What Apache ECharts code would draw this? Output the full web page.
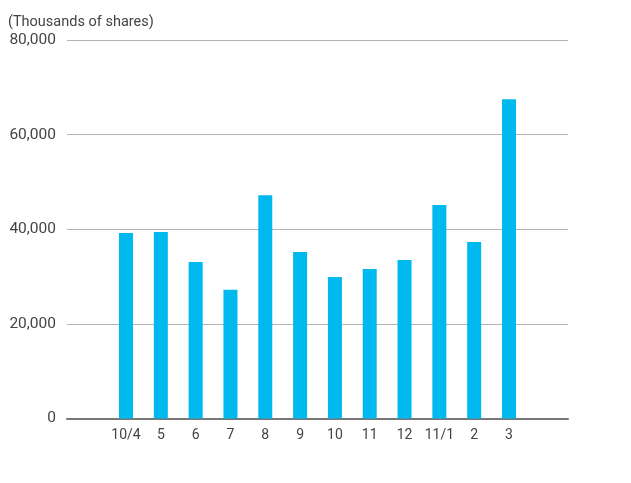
<!DOCTYPE html>
<html><head><meta charset="utf-8">
<script src="https://cdn.jsdelivr.net/npm/echarts@6/dist/echarts.min.js"></script>
<style>html,body{margin:0;padding:0;background:#fff}#c{width:631px;height:483px}</style>
</head><body><div id="c"></div>
<script>
const categories = ['10/4','5','6','7','8','9','10','11','12','11/1','2','3'];
const volumes = [39200, 39400, 33100, 27200, 47200, 35200, 29900, 31600, 33500, 45100, 37300, 67500];
const yTicks = [0, 20000, 40000, 60000, 80000];
const unitLabel = '(Thousands of shares)';

const chart = echarts.init(document.getElementById('c'), null, {renderer:'canvas'});
const font = 'Roboto, "Liberation Sans", sans-serif';
chart.setOption({
  animation: false,
  title: {text: unitLabel, left: 3, top: 10, textStyle: {fontSize: 14.5, fontWeight: 'normal', color: '#444', fontFamily: font}},
  grid: [
    {left: 67, right: 63, top: 40, bottom: 64.5},
    {left: 108.6, right: 104.6, top: 40, bottom: 64.5}
  ],
  xAxis: [
    {gridIndex: 0, type: 'category', data: [''], axisLine: {show: true, lineStyle: {color: '#777', width: 2}}, axisTick: {show: false}, axisLabel: {show: false}},
    {gridIndex: 1, type: 'category', data: categories, axisLine: {show: false}, axisTick: {show: false},
     axisLabel: {color: '#444', fontSize: 14, margin: 10, fontFamily: font, interval: 0}}
  ],
  yAxis: [
    {gridIndex: 0, type: 'value', min: yTicks[0], max: yTicks[yTicks.length-1], interval: 20000,
     axisLine: {show: false}, axisTick: {show: false},
     axisLabel: {color: '#444', fontSize: 15.5, margin: 11, fontFamily: font, formatter: v => v.toLocaleString('en-US')},
     splitLine: {lineStyle: {color: '#b4b4b4', width: 1}}},
    {gridIndex: 1, type: 'value', min: yTicks[0], max: yTicks[yTicks.length-1], show: false, splitLine: {show: false}}
  ],
  series: [{
    type: 'bar', xAxisIndex: 1, yAxisIndex: 1, data: volumes, barWidth: 14,
    itemStyle: {color: '#00b9ef'}
  }]
});
</script></body></html>
